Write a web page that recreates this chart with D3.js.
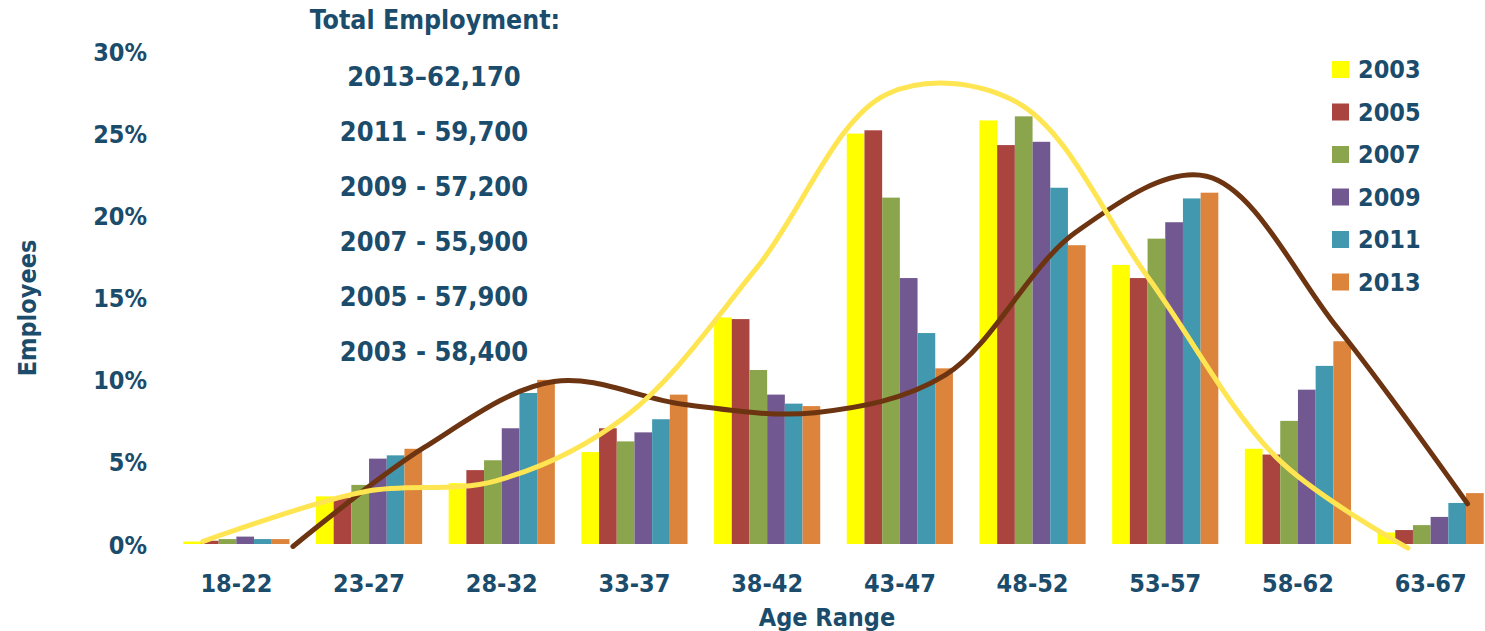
<!DOCTYPE html>
<html>
<head>
<meta charset="utf-8">
<script src="https://cdn.jsdelivr.net/npm/d3@7"></script>
<style>
  body { margin: 0; background: #fff; }
  svg text {
    font-family: "DejaVu Sans Condensed", "DejaVu Sans", sans-serif;
    font-stretch: condensed;
    font-weight: bold;
    fill: #1b4c6b;
  }
</style>
</head>
<body>
<div id="vis"></div>
<script>
// age ranges on the x axis
var ageRanges = ["18-22", "23-27", "28-32", "33-37", "38-42", "43-47", "48-52", "53-57", "58-62", "63-67"];
var years = ["2003", "2005", "2007", "2009", "2011", "2013"];

// share of employees (%) per age range, one array per year
var y2003 = [0.15, 2.9, 3.7, 5.6, 13.8, 25.0, 25.8, 17.0, 5.8, 0.7];
var y2005 = [0.2, 2.8, 4.5, 7.05, 13.7, 25.2, 24.3, 16.2, 5.45, 0.85];
var y2007 = [0.3, 3.6, 5.1, 6.25, 10.6, 21.1, 26.05, 18.6, 7.5, 1.15];
var y2009 = [0.45, 5.2, 7.05, 6.8, 9.1, 16.2, 24.5, 19.6, 9.4, 1.65];
var y2011 = [0.3, 5.4, 9.2, 7.6, 8.55, 12.85, 21.7, 21.05, 10.85, 2.5];
var y2013 = [0.3, 5.8, 10.0, 9.1, 8.4, 10.7, 18.2, 21.4, 12.35, 3.1];

// hand drawn trend curves (position in age range steps, value in %)
var yellowTrendIdx = [-0.25, 0, 1, 2, 3, 4, 5, 6, 7, 8, 9];
var yellowTrendVal = [0.15, 0.85, 3.2, 3.85, 7.8, 16.8, 27.4, 26.9, 16.3, 5.2, -0.25];
var brownTrendIdx = [0, 1, 2, 3, 4, 5, 6, 7, 8, 9];
var brownTrendVal = [-0.15, 5.85, 9.9, 8.5, 8.0, 10.3, 19.0, 22.4, 13.2, 2.45];

var yTicks = [0, 5, 10, 15, 20, 25, 30];

var totals = ["2013\u201362,170", "2011 - 59,700", "2009 - 57,200", "2007 - 55,900", "2005 - 57,900", "2003 - 58,400"];

var colors = ["#ffff00", "#a9443f", "#8aa54b", "#715890", "#4298af", "#dc843c"];

var width = 1485;
var height = 631;

var series = [y2003, y2005, y2007, y2009, y2011, y2013];

var svg = d3.select("#vis").append("svg")
  .attr("width", width)
  .attr("height", height);

// scales
var x = d3.scaleBand()
  .domain(ageRanges)
  .range([170, 1497])
  .paddingInner(0.2)
  .paddingOuter(0.1);

var xInner = d3.scaleBand()
  .domain(years)
  .range([0, x.bandwidth()]);

var y = d3.scaleLinear().domain([0, 30]).range([544, 51.5]);

// step index -> pixel, for the trend curves
// (the drawn curves are spaced a bit tighter than the bar groups)
var first = x(ageRanges[0]);
var last = x(ageRanges[ageRanges.length - 1]);
var xYellow = d3.scaleLinear()
  .domain([0, 9])
  .range([first + x.bandwidth() / 2 - 1, last + xInner("2007") - 5]);
var xBrown = d3.scaleLinear()
  .domain([0, 9])
  .range([first + x.bandwidth() + 3.5, last + xInner("2013") + 1.5]);

// bars
var groups = svg.append("g").selectAll("g")
  .data(ageRanges)
  .enter().append("g")
  .attr("transform", function (d) { return "translate(" + x(d) + ",0)"; });

groups.selectAll("rect")
  .data(function (d, i) {
    return years.map(function (yr, j) { return { year: yr, value: series[j][i], c: colors[j] }; });
  })
  .enter().append("rect")
  .attr("x", function (d) { return xInner(d.year); })
  .attr("y", function (d) { return y(d.value); })
  .attr("width", xInner.bandwidth())
  .attr("height", function (d) { return y(0) - y(d.value); })
  .attr("fill", function (d) { return d.c; });

// trend curves
var brownLine = d3.line()
  .x(function (d) { return xBrown(d[0]); })
  .y(function (d) { return y(d[1]); })
  .curve(d3.curveCatmullRom);

var yellowLine = d3.line()
  .x(function (d) { return xYellow(d[0]); })
  .y(function (d) { return y(d[1]); })
  .curve(d3.curveCatmullRom);

svg.append("path")
  .datum(d3.zip(brownTrendIdx, brownTrendVal))
  .attr("d", brownLine)
  .attr("fill", "none")
  .attr("stroke", "#6d3411")
  .attr("stroke-width", 5)
  .attr("stroke-linecap", "round");

svg.append("path")
  .datum(d3.zip(yellowTrendIdx, yellowTrendVal))
  .attr("d", yellowLine)
  .attr("fill", "none")
  .attr("stroke", "#ffe552")
  .attr("stroke-width", 5)
  .attr("stroke-linecap", "round");

// y axis labels
var yAxis = d3.axisLeft(y)
  .tickValues(yTicks)
  .tickSize(0)
  .tickPadding(0)
  .tickFormat(function (d) { return d + "%"; });

var yg = svg.append("g")
  .attr("transform", "translate(147,0)")
  .call(yAxis);
yg.select(".domain").remove();
yg.selectAll("text").style("font-size", "25px").attr("dy", "0.36em");

// x axis labels
var xAxis = d3.axisBottom(x).tickSize(0).tickPadding(0);
var xg = svg.append("g")
  .attr("transform", "translate(0,592)")
  .call(xAxis);
xg.select(".domain").remove();
xg.selectAll("text").style("font-size", "25px").attr("dy", 0);

// axis titles
svg.append("text")
  .attr("x", 827)
  .attr("y", 626)
  .attr("text-anchor", "middle")
  .style("font-size", "25px")
  .text("Age Range");

svg.append("text")
  .attr("transform", "translate(36,308) rotate(-90)")
  .attr("text-anchor", "middle")
  .style("font-size", "25px")
  .text("Employees");

// totals block
svg.append("text")
  .attr("x", 435)
  .attr("y", 29)
  .attr("text-anchor", "middle")
  .style("font-size", "26.5px")
  .text("Total Employment:");

svg.append("g").selectAll("text")
  .data(totals)
  .enter().append("text")
  .attr("x", 434)
  .attr("y", function (d, i) { return 86 + i * 55; })
  .attr("text-anchor", "middle")
  .style("font-size", "27px")
  .text(function (d) { return d; });

// legend
var legend = svg.append("g").selectAll("g")
  .data(years)
  .enter().append("g")
  .attr("transform", function (d, i) { return "translate(1332," + (61 + i * 42.5) + ")"; });

legend.append("rect")
  .attr("width", 17)
  .attr("height", 17)
  .attr("fill", function (d, i) { return colors[i]; });

legend.append("text")
  .attr("x", 26)
  .attr("y", 17)
  .style("font-size", "25px")
  .text(function (d) { return d; });
</script>
</body>
</html>
